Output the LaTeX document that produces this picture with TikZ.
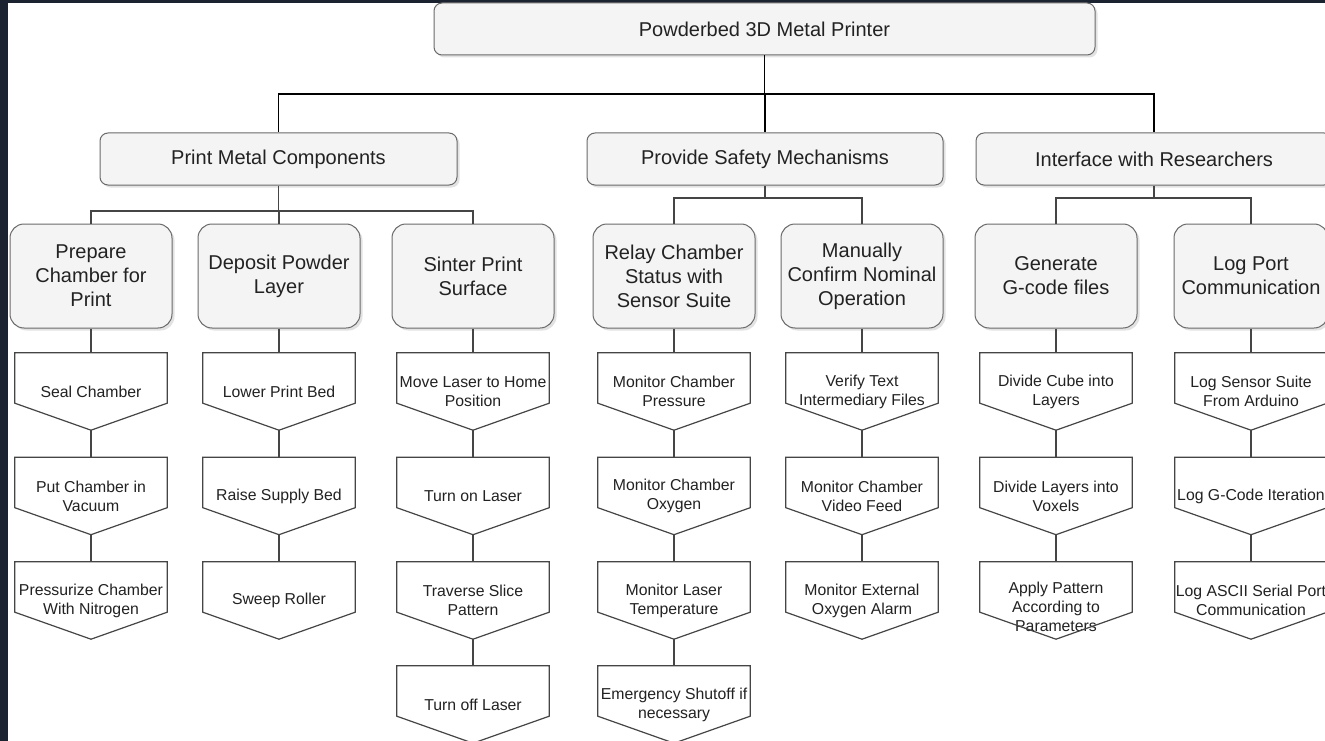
\documentclass[tikz,border=0pt]{standalone}
\usepackage{fontspec}
\setmainfont{Liberation Sans}
\usetikzlibrary{shadows}
\definecolor{bgdark}{HTML}{1B2230}
\definecolor{boxfill}{HTML}{F4F4F4}
\definecolor{boxline}{HTML}{6A6A6A}
\definecolor{txt}{HTML}{222222}
\definecolor{lnk}{HTML}{454545}
\begin{document}
\begin{tikzpicture}[x=1pt,y=-1pt,
  topbox/.style={draw=boxline, fill=boxfill, rounded corners=8pt, line width=1pt,
    drop shadow={shadow xshift=2.5pt,shadow yshift=-2.5pt,fill=black!22},
    minimum width=356pt, minimum height=52pt, inner sep=0pt,
    font=\fontsize{20}{24}\selectfont, text=txt},
  midbox/.style={topbox, rounded corners=14pt, minimum width=162pt, minimum height=104pt, align=center},
  pent/.style={minimum width=152pt, minimum height=77pt, inner sep=0pt, align=center,
    font=\fontsize{15.8}{19}\selectfont, text=txt},
  trunk/.style={draw=black, line width=1.3pt},
  link/.style={draw=lnk, line width=1.2pt},
  pentline/.style={draw=lnk, line width=1.2pt, line join=miter}
]
\useasboundingbox (0,0) rectangle (1325,741);
\clip (0,0) rectangle (1325,741);
\fill[bgdark] (0,0) rectangle (1325,741);
\fill[white] (8,3) rectangle (1325,741);

% level 0 and 1
\node[topbox, minimum width=661pt] (root) at (764.5,29) {Powderbed 3D Metal Printer};
\node[topbox, minimum width=357pt] (pmc) at (278.5,159) {Print Metal Components};
\node[topbox] (psm) at (765,159) {Provide Safety Mechanisms};
\node[topbox] (iwr) at (1154,159) {Interface with Researchers};

% level 2
\node[midbox] (pc) at (91,276) {Prepare\\Chamber for\\Print};
\node[midbox] (dp) at (279,276) {Deposit Powder\\Layer};
\node[midbox] (sp) at (473,276) {Sinter Print\\Surface};
\node[midbox] (rc) at (674,276) {Relay Chamber\\Status with\\Sensor Suite};
\node[midbox] (mc) at (862,276) {Manually\\Confirm Nominal\\Operation};
\node[midbox] (gg) at (1056,276) {Generate\\G-code files};
\node[midbox, minimum width=154pt] (lp) at (1251,276) {Log Port\\Communication};

% level 3
\node[pent] (a1) at (91,391.5) {Seal Chamber};
\node[pent] (a2) at (91,496) {Put Chamber in\\Vacuum};
\node[pent] (a3) at (91,600.5) {Pressurize Chamber\\With Nitrogen};

\node[pent] (b1) at (279,391.5) {Lower Print Bed};
\node[pent] (b2) at (279,496) {Raise Supply Bed};
\node[pent] (b3) at (279,600.5) {Sweep Roller};

\node[pent] (c1) at (473,391.5) {Move Laser to Home\\Position};
\node[pent] (c2) at (473,496) {Turn on Laser};
\node[pent] (c3) at (473,600.5) {Traverse Slice\\Pattern};
\node[pent] (c4) at (473,704.5) {Turn off Laser};

\node[pent] (d1) at (674,391.5) {Monitor Chamber\\Pressure};
\node[pent] (d2) at (674,496) {Monitor Chamber\\Oxygen};
\node[pent] (d3) at (674,600.5) {Monitor Laser\\Temperature};
\node[pent] (d4) at (674,704.5) {Emergency Shutoff if\\necessary};

\node[pent] (e1) at (862,391.5) {Verify Text\\Intermediary Files};
\node[pent] (e2) at (862,496) {Monitor Chamber\\Video Feed};
\node[pent] (e3) at (862,600.5) {Monitor External\\Oxygen Alarm};

\node[pent] (f1) at (1056,391.5) {Divide Cube into\\Layers};
\node[pent] (f2) at (1056,496) {Divide Layers into\\Voxels};
\node[pent] (f3) at (1056,600.5) {\smash{\raisebox{-12pt}{\begin{tabular}{@{}c@{}}Apply Pattern\\According to\\Parameters\end{tabular}}}};

\node[pent] (g1) at (1251,391.5) {Log Sensor Suite\\From Arduino};
\node[pent] (g2) at (1251,496) {Log G-Code Iteration};
\node[pent] (g3) at (1251,600.5) {Log ASCII Serial Port\\Communication};

% pentagon outlines
\foreach \n in {a1,a2,a3,b1,b2,b3,c1,c2,c3,c4,d1,d2,d3,d4,e1,e2,e3,f1,f2,f3,g1,g2,g3}
  \draw[pentline] (\n.north west) -- (\n.north east) -- ([yshift=27pt]\n.south east)
     -- (\n.south) -- ([yshift=27pt]\n.south west) -- cycle;

% trunk connectors
\coordinate (j0) at (764.5,94);
\draw[trunk] (root) -- (j0);
\draw[trunk] (j0) -| (pmc.north);
\draw[trunk] (j0) -| (psm.north);
\draw[trunk] (j0) -| (iwr.north);

% level 1 -> level 2
\coordinate (j1) at (278.5,211);
\draw[link] (pmc.south) -- (j1);
\draw[link] (j1) -| (pc.north);
\draw[link] (j1) -| (dp.north);
\draw[link] (j1) -| (sp.north);
\coordinate (j2) at (765,198);
\draw[link] (psm.south) -- (j2);
\draw[link] (j2) -| (rc.north);
\draw[link] (j2) -| (mc.north);
\coordinate (j3) at (1154,198);
\draw[link] (iwr.south) -- (j3);
\draw[link] (j3) -| (gg.north);
\draw[link] (j3) -| (lp.north);

% level 2 -> level 3 chains
\draw[link] (pc) -- (a1); \draw[link] (a1) -- (a2); \draw[link] (a2) -- (a3);
\draw[link] (dp) -- (b1); \draw[link] (b1) -- (b2); \draw[link] (b2) -- (b3);
\draw[link] (sp) -- (c1); \draw[link] (c1) -- (c2); \draw[link] (c2) -- (c3); \draw[link] (c3) -- (c4);
\draw[link] (rc) -- (d1); \draw[link] (d1) -- (d2); \draw[link] (d2) -- (d3); \draw[link] (d3) -- (d4);
\draw[link] (mc) -- (e1); \draw[link] (e1) -- (e2); \draw[link] (e2) -- (e3);
\draw[link] (gg) -- (f1); \draw[link] (f1) -- (f2); \draw[link] (f2) -- (f3);
\draw[link] (lp) -- (g1); \draw[link] (g1) -- (g2); \draw[link] (g2) -- (g3);
\end{tikzpicture}
\end{document}
